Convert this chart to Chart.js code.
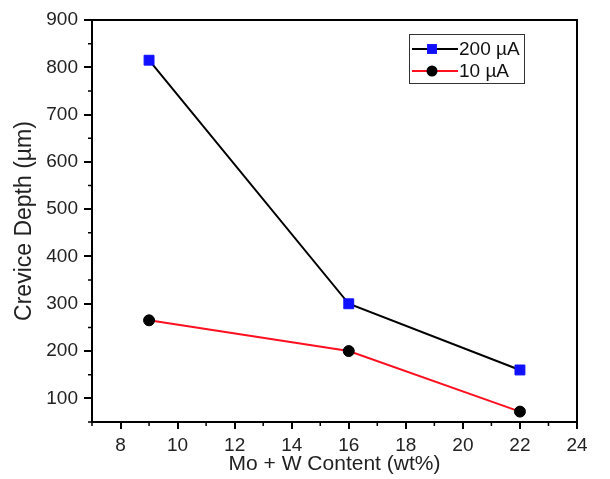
<!DOCTYPE html>
<html>
<head>
<meta charset="utf-8">
<script src="https://cdn.jsdelivr.net/npm/chart.js@4/dist/chart.umd.min.js"></script>
<style>
  html, body { margin: 0; padding: 0; background: #fff; }
  #wrap { width: 610px; height: 479px; }
</style>
</head>
<body>
<div id="wrap"><canvas id="crevice-chart" width="610" height="479"></canvas></div>
<script>
// Mo + W content (wt%)
const content = [9, 16, 22];
// crevice depth (um)
const depth200 = [815, 300, 160];
const depth10 = [265, 200, 72];
const xTicks = [8, 10, 12, 14, 16, 18, 20, 22, 24];
const yTicks = [100, 200, 300, 400, 500, 600, 700, 800, 900];

const FONT = "'Liberation Sans', Arial, Helvetica, sans-serif";

// minor ticks halfway between the labelled ones, plus frame on top/right
const frameAndMinor = {
  id: 'frameAndMinor',
  afterDraw(chart) {
    const ctx = chart.ctx;
    const a = chart.chartArea;
    ctx.save();
    ctx.strokeStyle = '#000';
    ctx.lineWidth = 2;
    ctx.beginPath();
    ctx.moveTo(a.left, a.top); ctx.lineTo(a.right, a.top); ctx.lineTo(a.right, a.bottom);
    ctx.stroke();

    ctx.lineWidth = 1.5;
    const minors = (s) => {
      const v = s.ticks.map(t => t.value);
      const out = [];
      for (let i = 1; i < v.length; i++) out.push((v[i - 1] + v[i]) / 2);
      const half = (v[1] - v[0]) / 2;
      if (v[0] - half >= s.min) out.unshift(v[0] - half);
      return out;
    };
    const xs = chart.scales.x, ys = chart.scales.y;
    ctx.beginPath();
    minors(xs).forEach(v => {
      const p = xs.getPixelForValue(v);
      ctx.moveTo(p, a.bottom); ctx.lineTo(p, a.bottom + 4);
    });
    minors(ys).forEach(v => {
      const p = ys.getPixelForValue(v);
      ctx.moveTo(a.left, p); ctx.lineTo(a.left - 4, p);
    });
    ctx.stroke();
    ctx.restore();
  }
};

// boxed legend with line + marker samples
const boxLegend = {
  id: 'boxLegend',
  afterDraw(chart) {
    const ctx = chart.ctx;
    const a = chart.chartArea;
    const w = 115, h = 49;
    const x0 = a.right - 53 - w, y0 = a.top + 14;
    ctx.save();
    ctx.strokeStyle = '#333';
    ctx.lineWidth = 1;
    ctx.strokeRect(x0 + 0.5, y0 + 0.5, w, h);
    ctx.font = '19px ' + FONT;
    ctx.textBaseline = 'middle';
    chart.data.datasets.forEach((ds, i) => {
      const y = y0 + 15 + i * 22;
      ctx.strokeStyle = ds.borderColor;
      ctx.lineWidth = 2;
      ctx.beginPath();
      ctx.moveTo(x0 + 3, y); ctx.lineTo(x0 + 49, y);
      ctx.stroke();
      ctx.fillStyle = ds.pointBackgroundColor;
      ctx.beginPath();
      if (ds.pointStyle === 'rect') {
        const s = ds.pointRadius * Math.SQRT1_2;
        ctx.rect(x0 + 23 - s, y - s, 2 * s, 2 * s);
      } else {
        ctx.arc(x0 + 23, y, ds.pointRadius, 0, Math.PI * 2);
      }
      ctx.fill();
      ctx.fillStyle = '#111';
      ctx.fillText(ds.label, x0 + 50, y + 1);
    });
    ctx.restore();
  }
};

new Chart(document.getElementById('crevice-chart'), {
  type: 'line',
  data: {
    datasets: [{
      label: '200 µA',
      data: content.map((x, i) => ({x: x, y: depth200[i]})),
      borderColor: '#000',
      borderWidth: 2,
      pointStyle: 'rect',
      pointRadius: 7,
      pointBackgroundColor: '#1010ff',
      pointBorderColor: '#1010ff',
      pointBorderWidth: 1
    }, {
      label: '10 µA',
      data: content.map((x, i) => ({x: x, y: depth10[i]})),
      borderColor: '#ff1020',
      borderWidth: 2,
      pointStyle: 'circle',
      pointRadius: 5.5,
      pointBackgroundColor: '#000',
      pointBorderColor: '#000',
      pointBorderWidth: 1
    }]
  },
  options: {
    responsive: false,
    animation: false,
    layout: { padding: { top: 20, right: 33, left: 0, bottom: 0 } },
    plugins: {
      legend: { display: false },
      tooltip: { enabled: false }
    },
    scales: {
      x: {
        type: 'linear',
        min: 7,
        max: 24,
        afterBuildTicks: (s) => { s.ticks = xTicks.map(v => ({value: v})); },
        afterFit: (s) => { s.height = 57; },
        border: { color: '#000', width: 2 },
        grid: { drawOnChartArea: false, color: '#000', tickLength: 7, lineWidth: 2 },
        ticks: { color: '#222', padding: 5, font: { family: FONT, size: 19 } },
        title: {
          display: true,
          text: 'Mo + W Content (wt%)',
          color: '#222',
          font: { family: FONT, size: 21 },
          padding: { top: 0, bottom: 2 }
        }
      },
      y: {
        min: 50,
        max: 900,
        afterBuildTicks: (s) => { s.ticks = yTicks.map(v => ({value: v})); },
        afterFit: (s) => { s.width = 92; },
        border: { color: '#000', width: 2 },
        grid: { drawOnChartArea: false, color: '#000', tickLength: 8, lineWidth: 2 },
        ticks: { color: '#222', padding: 6, font: { family: FONT, size: 19 } },
        title: {
          display: true,
          text: 'Crevice Depth (µm)',
          color: '#222',
          font: { family: FONT, size: 23 },
          padding: { top: 11, bottom: 0 }
        }
      }
    }
  },
  plugins: [frameAndMinor, boxLegend]
});
</script>
</body>
</html>
